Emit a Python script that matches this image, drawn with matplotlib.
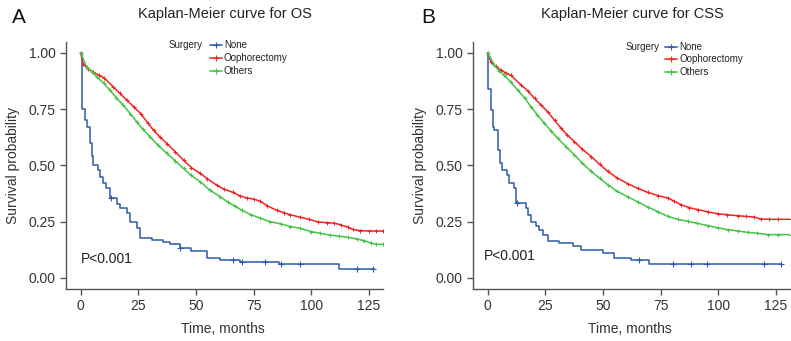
"""
Kaplan-Meier curves (OS and CSS) by surgery type, two panels side by side.
"""

import matplotlib
matplotlib.use("Agg")
import matplotlib.pyplot as plt
from matplotlib.lines import Line2D

plt.rcParams['font.family'] = ['Liberation Sans', 'DejaVu Sans']

W, H = 791, 341

groups = ["None", "Oophorectomy", "Others"]
colors = ["#2b5ba8", "#ee2424", "#45c345"]

# ---- OS (panel A)
os_none_t = [0, 0.4, 0.7, 1.9, 2.6, 4.0, 4.8, 5.5, 7.4, 8.4, 9.8, 10.9, 12.7, 15.7, 17.1,
             20.0, 21.4, 24.3, 25.8, 31, 35.5, 38.8, 43, 48, 54.8, 60.6, 69.3, 85.9, 112, 127.2]
os_none_s = [1.0, 0.84, 0.75, 0.70, 0.67, 0.60, 0.54, 0.50, 0.48, 0.45, 0.42, 0.40, 0.355, 0.33, 0.31,
             0.29, 0.25, 0.22, 0.177, 0.17, 0.16, 0.148, 0.133, 0.118, 0.089, 0.081, 0.069, 0.059, 0.04, 0.04]
os_none_cens = [13, 43, 66, 70, 80, 87, 95, 120, 127]

os_oo_t = [0, 1, 3, 5.5, 8, 10, 14, 17, 20, 23, 26, 29, 31.6, 34.5, 37.4, 41, 44.6, 48, 51.9, 55,
           59, 62, 66, 69, 72, 75, 78, 81, 85, 88, 91, 95, 99, 103, 107, 110, 113, 116, 118, 121,
           125, 128, 131.3]
os_oo_s = [1.0, 0.95, 0.93, 0.915, 0.90, 0.89, 0.85, 0.82, 0.79, 0.76, 0.73, 0.69, 0.656, 0.625,
           0.597, 0.56, 0.523, 0.49, 0.464, 0.44, 0.412, 0.395, 0.38, 0.365, 0.355, 0.35, 0.34, 0.32,
           0.30, 0.29, 0.28, 0.27, 0.26, 0.248, 0.245, 0.243, 0.235, 0.225, 0.215, 0.21, 0.208,
           0.208, 0.208]

os_ot_t = [0, 2.6, 5, 7, 10, 12.7, 15.5, 18.5, 21.5, 24.3, 27, 30.1, 33.5, 37.4, 41, 44.6, 48,
           51.9, 56, 60.6, 64, 67, 70, 74, 78, 82, 86.7, 91, 95.3, 100, 104, 108, 112, 116, 120,
           123, 126, 128, 131.3]
os_ot_s = [1.0, 0.937, 0.915, 0.893, 0.865, 0.834, 0.80, 0.767, 0.73, 0.693, 0.66, 0.627, 0.59,
           0.553, 0.52, 0.486, 0.455, 0.427, 0.39, 0.36, 0.335, 0.318, 0.30, 0.28, 0.265, 0.25,
           0.24, 0.228, 0.22, 0.205, 0.198, 0.19, 0.185, 0.18, 0.172, 0.165, 0.155, 0.149, 0.149]

# ---- CSS (panel B)
css_none_t = [0, 0.3, 1.2, 2.2, 2.9, 4.6, 5.4, 6.1, 8.4, 9.4, 11.6, 12.3, 16.6, 17.4, 18.8, 21,
              22.4, 23.9, 26, 30.9, 36.8, 40.4, 49.8, 54.8, 62, 70, 127.2]
css_none_s = [1.0, 0.838, 0.746, 0.67, 0.657, 0.569, 0.51, 0.48, 0.458, 0.42, 0.40, 0.332, 0.31,
              0.28, 0.25, 0.229, 0.214, 0.192, 0.165, 0.155, 0.14, 0.125, 0.11, 0.089, 0.077,
              0.059, 0.059]
css_none_cens = [12.8, 65.5, 80.2, 88, 95, 120, 127.2]

css_oo_t = [0, 1.4, 3.5, 5.8, 8, 10.1, 14.5, 17.5, 20.3, 23, 26, 29, 31.8, 34.5, 37.6, 41, 44.9,
            48.5, 52.1, 56, 60.8, 65, 69.4, 74, 78.1, 81, 83.9, 87.5, 91.1, 95.5, 99.8, 104,
            108.5, 112, 115.7, 118.6, 122, 126, 131.5]
css_oo_s = [1.0, 0.96, 0.94, 0.923, 0.91, 0.90, 0.857, 0.83, 0.798, 0.77, 0.738, 0.70, 0.665,
            0.635, 0.606, 0.572, 0.539, 0.505, 0.473, 0.445, 0.418, 0.398, 0.38, 0.365, 0.355,
            0.34, 0.325, 0.312, 0.303, 0.293, 0.285, 0.28, 0.276, 0.273, 0.27, 0.261, 0.26,
            0.26, 0.26]

css_ot_t = [0, 2.9, 5, 7.2, 10, 13, 16, 18.8, 21.5, 24.6, 27.5, 30.4, 34, 37.6, 41, 44.9, 48.5,
            52.1, 56, 60.8, 65, 69.4, 74, 78.1, 82.5, 86.8, 91, 95.5, 100, 104.2, 108.5, 112.8,
            117, 121.5, 126, 131.5]
css_ot_s = [1.0, 0.945, 0.92, 0.90, 0.87, 0.835, 0.80, 0.76, 0.725, 0.687, 0.653, 0.62, 0.583,
            0.547, 0.51, 0.473, 0.443, 0.414, 0.385, 0.36, 0.338, 0.315, 0.293, 0.273, 0.26,
            0.251, 0.242, 0.232, 0.222, 0.214, 0.208, 0.202, 0.198, 0.192, 0.192, 0.192]

x_ticks = [0, 25, 50, 75, 100, 125]
y_ticks = [0.0, 0.25, 0.50, 0.75, 1.00]
y_ticklabels = ["0.00", "0.25", "0.50", "0.75", "1.00"]


def fx(px):
    return px / W


def fy(py):
    return 1 - py / H


def step_at(ts, ss, t):
    # value of the step curve at time t (for placing censor marks)
    v = ss[0]
    for ti, si in zip(ts, ss):
        if ti <= t:
            v = si
    return v


def panel(ax, none_t, none_s, none_cens, oo_t, oo_s, ot_t, ot_s, title, pval_xy):
    ax.plot(none_t, none_s, drawstyle="steps-post", color=colors[0], lw=1.1)
    ax.plot(none_cens, [step_at(none_t, none_s, c) for c in none_cens], ls="none",
            marker="+", color=colors[0], ms=4, mew=0.8)
    ax.plot(oo_t, oo_s, color=colors[1], lw=1.1, marker="+", ms=3.5, mew=0.7)
    ax.plot(ot_t, ot_s, color=colors[2], lw=1.1, marker="+", ms=3.5, mew=0.7)

    ax.set_xlim(-6.4, 131.3)
    ax.set_ylim(-0.05, 1.05)
    ax.set_xticks(x_ticks)
    ax.set_yticks(y_ticks)
    ax.set_yticklabels(y_ticklabels)
    for s in ["top", "right"]:
        ax.spines[s].set_visible(False)
    for s in ["left", "bottom"]:
        ax.spines[s].set_color("#555555")
        ax.spines[s].set_linewidth(1.0)
    ax.tick_params(colors="#555555", labelcolor="#333333", labelsize=10, length=4, width=1.0)
    ax.set_xlabel("Time, months", fontsize=10, color="#333333")
    ax.set_ylabel("Survival probability", fontsize=10, color="#333333")
    ax.xaxis.set_label_coords(0.495, -0.135)
    ax.yaxis.set_label_coords(-0.145, 0.5)
    ax.text(0.501, 1.112, title, transform=ax.transAxes, ha="center", va="center",
            fontsize=10.5, color="#222222")
    ax.text(pval_xy[0], pval_xy[1], "P<0.001", ha="left", va="center", fontsize=10,
            color="#222222")


def legend(fig, sx, kx0, kx1, lx, rows):
    fig.text(fx(sx), fy(rows[0]), "Surgery", ha="right", va="center", fontsize=7, color="#222222")
    for name, col, r in zip(groups, colors, rows):
        fig.add_artist(Line2D([fx(kx0), fx(kx1)], [fy(r), fy(r)], color=col, lw=1.1))
        fig.add_artist(Line2D([fx((kx0 + kx1) / 2)], [fy(r)], color=col, marker="+",
                              ms=4, mew=0.8))
        fig.text(fx(lx), fy(r), name, ha="left", va="center", fontsize=7, color="#222222")


fig = plt.figure(figsize=(W / 100, H / 100), dpi=100)
axA = fig.add_axes([fx(66), fy(289), 317.3 / W, 247.3 / H])
axB = fig.add_axes([fx(473), fy(289), 317.3 / W, 247.3 / H])

panel(axA, os_none_t, os_none_s, os_none_cens, os_oo_t, os_oo_s, os_ot_t, os_ot_s,
      "Kaplan-Meier curve for OS", (0.1, 0.085))
panel(axB, css_none_t, css_none_s, css_none_cens, css_oo_t, css_oo_s, css_ot_t, css_ot_s,
      "Kaplan-Meier curve for CSS", (-1.7, 0.095))

legend(fig, 203, 210, 222, 224, [45, 57.7, 70.5])
legend(fig, 660, 665, 677, 679, [46.7, 59, 71.7])

fig.text(fx(12), fy(17.5), "A", ha="left", va="center", fontsize=15, color="#111111")
fig.text(fx(421), fy(17.5), "B", ha="left", va="center", fontsize=15, color="#111111")

fig.savefig("out.png", dpi=100)
